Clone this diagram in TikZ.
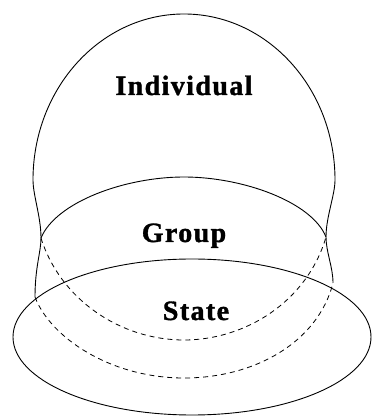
\documentclass[tikz,border=0pt]{standalone}
\usepackage{fontspec}
\usepackage{tikz}
\usetikzlibrary{positioning}
\newfontfamily\lblfont[LetterSpace=5,FakeBold=1.2]{Liberation Serif}

\begin{document}
\begin{tikzpicture}[x=1pt, y=1pt,
  outline/.style={draw=black, line width=0.9pt, line join=round},
  hidden/.style={draw=black, line width=0.8pt, dash pattern=on 5pt off 4pt},
  lbl/.style={font=\lblfont\fontsize{28}{30}\selectfont\bfseries, anchor=base, inner sep=0pt},
]
\useasboundingbox (0,0) rectangle (373,417);
% Individual: dome, lower part hidden
\draw[outline] (35,120) .. controls (35,150) and (41,165) .. (41,179) .. controls (41,200) and (33,222) .. (33,237)
  arc[start angle=180, end angle=0, x radius=151, y radius=166]
  .. controls (335,222) and (326,200) .. (326,180) .. controls (326,165) and (333,150) .. (333,134);
\draw[hidden] (35,120) .. controls (50,80) and (110,39) .. (184,39) .. controls (255,39) and (318,75) .. (333,134);
% Group
\draw[outline] (41,179) .. controls (56,215) and (125,240) .. (184,240) .. controls (243,240) and (312,215) .. (326,180);
\draw[hidden] (41,179) .. controls (60,118) and (120,77) .. (184,77) .. controls (245,77) and (307,115) .. (326,180);
% State
\draw[outline] (192,80) ellipse [x radius=179, y radius=78];
% labels
\node[lbl] (ind) at (184,322) {Individual};
\node[lbl] (grp) at (184,175) {Group};
\node[lbl] (sta) at (196,97) {State};
\end{tikzpicture}
\end{document}
